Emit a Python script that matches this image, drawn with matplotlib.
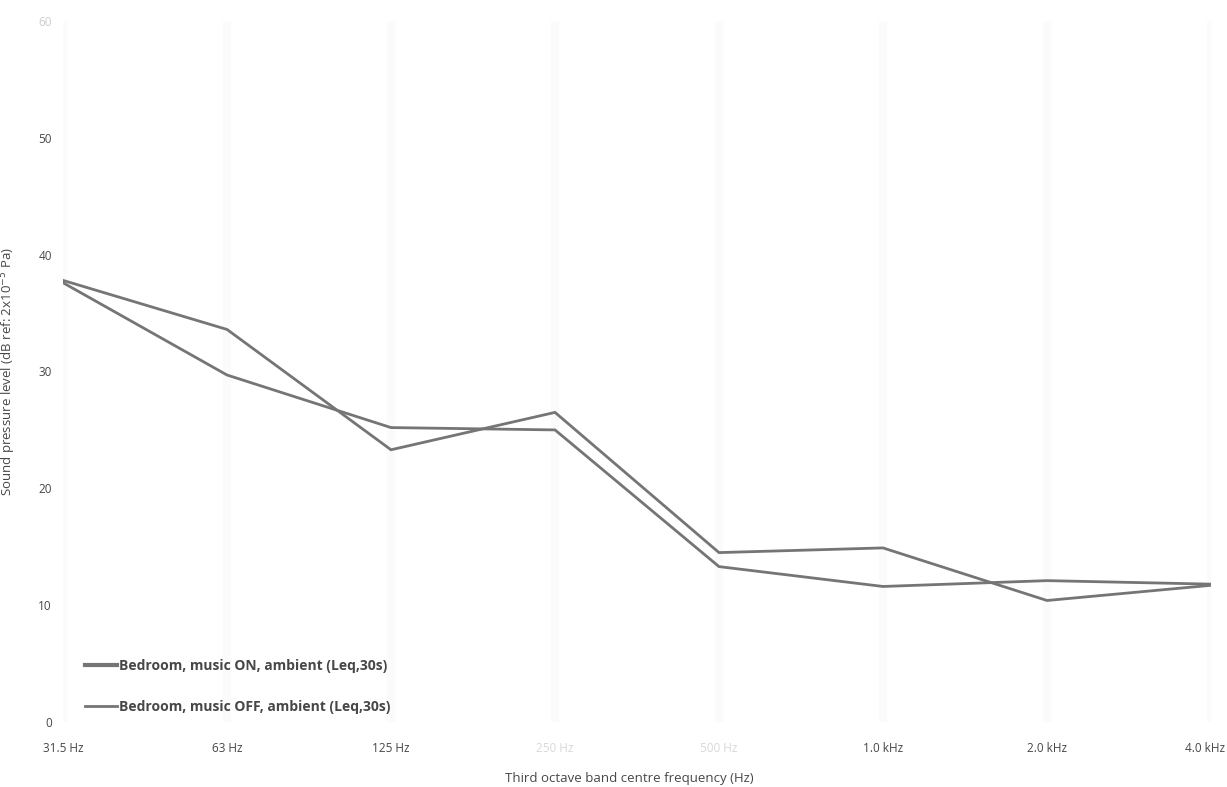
import matplotlib
matplotlib.use("Agg")
import matplotlib.pyplot as plt
import matplotlib.transforms as mtransforms

categories = ["31.5 Hz", "63 Hz", "125 Hz", "250 Hz", "500 Hz", "1.0 kHz", "2.0 kHz", "4.0 kHz"]
music_on = [37.8, 33.6, 23.3, 26.5, 14.5, 14.9, 10.4, 11.7]
music_off = [37.6, 29.7, 25.2, 25.0, 13.3, 11.6, 12.1, 11.8]
series_names = ["Bedroom, music ON, ambient (Leq,30s)", "Bedroom, music OFF, ambient (Leq,30s)"]
y_ticks = [0, 10, 20, 30, 40, 50, 60]

plt.rcParams['font.family'] = ['Open Sans', 'DejaVu Sans']

fig = plt.figure(figsize=(12.27, 7.87), dpi=100)
W, H = 1227, 787
ax = fig.add_axes([63 / W, (H - 722) / H, (1211 - 63) / W, (722 - 21) / H])

x = list(range(len(categories)))
line_color = "#757575"
for xi in x:
    ax.axvline(xi, color="#fbfbfb", lw=6, zorder=0)
l1, = ax.plot(x, music_on, color=line_color, lw=2.0, solid_joinstyle="miter", zorder=3)
l2, = ax.plot(x, music_off, color=line_color, lw=2.0, solid_joinstyle="miter", zorder=3)

ax.set_xlim(0, len(categories) - 1)
ax.set_ylim(0, 60)
for s in ax.spines.values():
    s.set_visible(False)
ax.tick_params(length=0)

text_color = "#474747"
ax.set_xticks(x)
ax.set_xticklabels([])
faint_x = {"250 Hz", "500 Hz"}
trans = mtransforms.blended_transform_factory(ax.transData, ax.transAxes)
for xi, lab in zip(x, categories):
    col = "#d8d8d8" if lab in faint_x else text_color
    if xi == len(categories) - 1:
        ax.annotate(lab, (xi, 0), xycoords=trans, xytext=(10, -19), textcoords="offset points",
                    ha="right", va="center", fontsize=8.5, color=col, annotation_clip=False)
    else:
        ax.annotate(lab, (xi, 0), xycoords=trans, xytext=(0, -19), textcoords="offset points",
                    ha="center", va="center", fontsize=8.5, color=col, annotation_clip=False)

ax.set_yticks(y_ticks)
ax.set_yticklabels([str(v) for v in y_ticks], fontsize=8.5, color=text_color)
for lab in ax.get_yticklabels():
    if lab.get_text() == "60":
        lab.set_color("#cccccc")
ax.tick_params(axis="y", pad=8)

ax.set_xlabel("Third octave band centre frequency (Hz)", fontsize=9.5, color=text_color)
ax.xaxis.set_label_coords(0.493, -(772 - 722) / 701)
ax.set_ylabel("Sound pressure level (dB ref: 2x10$^{-5}$ Pa)", fontsize=9.5, color=text_color)
ax.yaxis.set_label_coords((18 - 63) / 1148, 0.5)

leg1 = ax.legend([l1], [series_names[0]], loc="upper left", bbox_to_anchor=(0.014, 0.098),
                 frameon=False, prop={"size": 10, "weight": "bold"}, handlelength=2.3,
                 handletextpad=0.15, borderaxespad=0)
for t in leg1.get_texts():
    t.set_color(text_color)
leg1.get_lines()[0].set_linewidth(3.0)
ax.add_artist(leg1)
leg2 = ax.legend([l2], [series_names[1]], loc="upper left", bbox_to_anchor=(0.014, 0.040),
                 frameon=False, prop={"size": 10, "weight": "bold"}, handlelength=2.3,
                 handletextpad=0.15, borderaxespad=0)
for t in leg2.get_texts():
    t.set_color(text_color)

fig.savefig("out.png", dpi=100, facecolor="white")
